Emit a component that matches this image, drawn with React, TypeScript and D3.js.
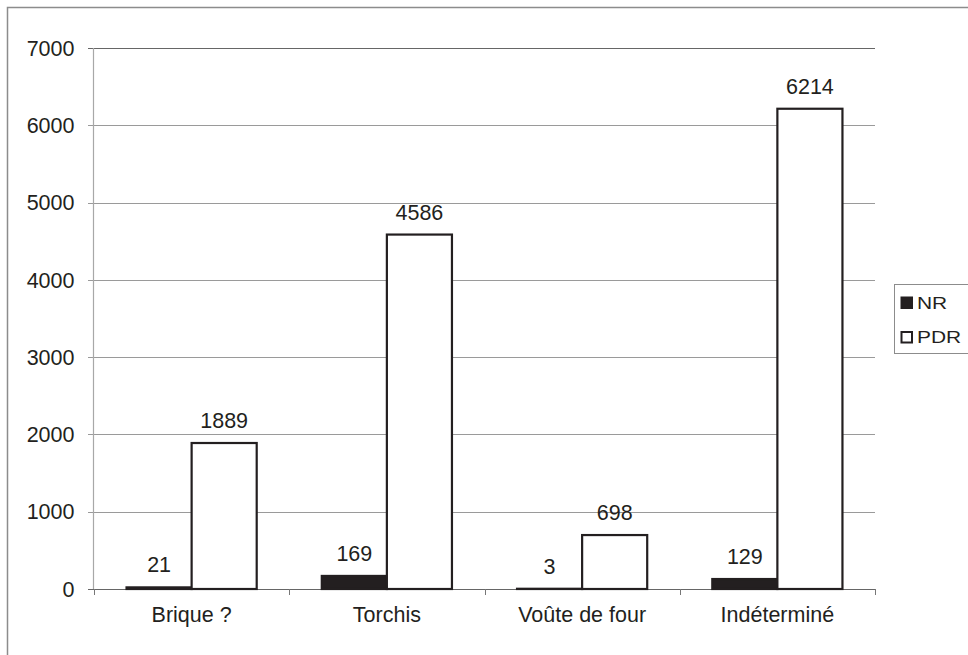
import React from "react";
import * as d3 from "d3";

const categories = ["Brique ?", "Torchis", "Voûte de four", "Indéterminé"];
const seriesNames = ["NR", "PDR"];
const nrValues = [21, 169, 3, 129];
const pdrValues = [1889, 4586, 698, 6214];
const yTicks = [0, 1000, 2000, 3000, 4000, 5000, 6000, 7000];

const W = 968;
const H = 655;
const FONT = "'Liberation Sans', Arial, sans-serif";
const INK = "#231f20";
const FS = 21.5;

export default function App() {
  const left = 94, right = 875, top = 48, bottom = 589;
  const x = d3.scaleBand<string>().domain(categories).range([left, right]).padding(0);
  const bw = x.bandwidth();
  const x1 = d3.scaleBand<string>().domain(seriesNames).range([bw * 0.1667, bw * 0.8333]).padding(0);
  const y = d3.scaleLinear().domain([0, 7000]).range([bottom, top]);
  const seriesValues = [nrValues, pdrValues];

  return (
    <svg width={W} height={H} style={{ position: "absolute", left: 0, top: 0, background: "#fff" }}>
      <rect x={0} y={0} width={W} height={H} fill="#fff" />
      {/* outer frame */}
      <path d={`M7.5,${H + 2}V7.5H${W + 2}`} fill="none" stroke="#8c8c8c" strokeWidth={1.5} />
      {/* gridlines & y ticks */}
      {yTicks.map((t) => (
        <g key={t}>
          <line x1={left - 6} x2={right} y1={Math.round(y(t)) + 0.5} y2={Math.round(y(t)) + 0.5}
            stroke={t === 0 || t === 7000 ? "#666" : "#9a9a9a"} strokeWidth={1} />
          <text x={74.5} y={y(t)} dy="0.36em" textAnchor="end" fontFamily={FONT} fontSize={FS} fill={INK}>
            {t}
          </text>
        </g>
      ))}
      {/* y axis */}
      <line x1={left - 0.5} x2={left - 0.5} y1={top} y2={bottom} stroke="#a8a8a8" strokeWidth={1.2} />
      {/* category ticks */}
      {[...categories.map((c) => x(c) as number), right].map((px, i) => (
        <line key={i} x1={Math.round(px) + 0.5} x2={Math.round(px) + 0.5} y1={bottom} y2={bottom + 6}
          stroke="#777" strokeWidth={1} />
      ))}
      {/* bars */}
      {categories.map((c, ci) =>
        seriesNames.map((s, si) => {
          const v = seriesValues[si][ci];
          const bx = (x(c) as number) + (x1(s) as number);
          const by = y(v);
          return (
            <g key={c + s}>
              <rect x={bx} y={by} width={x1.bandwidth()} height={bottom - by}
                fill={si === 0 ? INK : "#fff"} stroke={INK} strokeWidth={2.2} />
              <text x={bx + x1.bandwidth() / 2} y={by - 15} textAnchor="middle"
                fontFamily={FONT} fontSize={FS} fill={INK}>
                {v}
              </text>
            </g>
          );
        })
      )}
      {/* category labels */}
      {categories.map((c) => (
        <text key={c} x={(x(c) as number) + bw / 2} y={622} textAnchor="middle"
          fontFamily={FONT} fontSize={FS} fill={INK}>
          {c}
        </text>
      ))}
      {/* legend */}
      <rect x={894.5} y={284.5} width={80} height={69} fill="#fff" stroke="#8c8c8c" strokeWidth={1} />
      {seriesNames.map((s, i) => (
        <g key={s}>
          <rect x={901.5} y={297.5 + i * 34.5} width={10.5} height={10.5}
            fill={i === 0 ? INK : "#fff"} stroke={INK} strokeWidth={2} />
          <text transform={`translate(917,${308.5 + i * 34.5}) scale(1.27,1)`} x={0} y={0}
            fontFamily={FONT} fontSize={16.5} fill={INK}>
            {s}
          </text>
        </g>
      ))}
    </svg>
  );
}
